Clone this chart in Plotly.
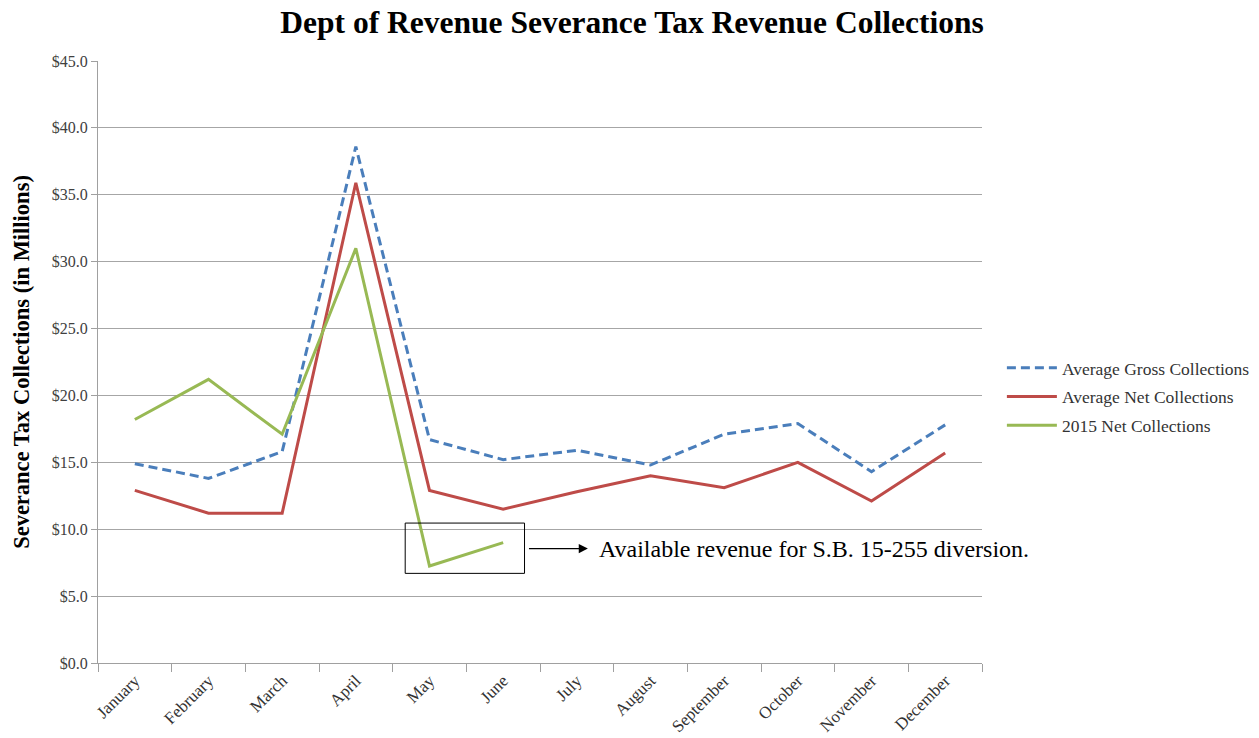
import plotly.graph_objects as go

months = ["January", "February", "March", "April", "May", "June", "July",
          "August", "September", "October", "November", "December"]
gross = [14.9, 13.8, 15.8, 38.6, 16.7, 15.2, 15.9, 14.8, 17.1, 17.9, 14.3, 17.8]
net = [12.9, 11.2, 11.2, 35.9, 12.9, 11.5, 12.8, 14.0, 13.1, 15.0, 12.1, 15.7]
net2015 = [18.2, 21.2, 17.1, 31.0, 7.25, 9.0]

FONT = "Liberation Serif, Times New Roman, serif"

fig = go.Figure()
fig.add_trace(go.Scatter(x=months, y=gross, mode="lines", name="Average Gross Collections",
                         legendgroup="g1",
                         line=dict(color="#4a7ebb", width=3, dash="9px,5px")))
fig.add_trace(go.Scatter(x=months, y=net, mode="lines", name="Average Net Collections",
                         legendgroup="g2",
                         line=dict(color="#be4b48", width=3)))
fig.add_trace(go.Scatter(x=months[:len(net2015)], y=net2015, mode="lines", name="2015 Net Collections",
                         legendgroup="g3",
                         line=dict(color="#98b954", width=3)))

fig.update_layout(
    width=1259, height=738,
    margin=dict(l=98, r=277, t=61, b=75, autoexpand=False),
    paper_bgcolor="white", plot_bgcolor="white",
    font=dict(family=FONT, color="#404040"),
    title=dict(text="<b>Dept of Revenue Severance Tax Revenue Collections</b>",
               x=0.502, xanchor="center", y=0.97, yanchor="middle",
               font=dict(family=FONT, size=31.5, color="black")),
    legend=dict(x=1.0225, xanchor="left", y=0.442, yanchor="middle",
                font=dict(family=FONT, size=17.5, color="#333333"),
                bgcolor="rgba(0,0,0,0)", tracegroupgap=3, itemwidth=50),
    showlegend=True,
)
fig.update_xaxes(
    type="category", range=[-0.5, 11.5], automargin=False,
    showline=True, linecolor="#a0a0a0", linewidth=1,
    ticks="outside", tickson="boundaries", ticklen=8, tickcolor="#a0a0a0",
    tickangle=-45, tickfont=dict(family=FONT, size=17, color="#333333"),
    showgrid=False,
)
fig.update_yaxes(
    range=[0, 45], dtick=5, tickprefix="$", tickformat=".1f", automargin=False,
    showline=True, linecolor="#a0a0a0", linewidth=1,
    ticks="outside", ticklen=6, tickcolor="#a0a0a0",
    showgrid=True, gridcolor="#a6a6a6", gridwidth=1,
    tickfont=dict(family=FONT, size=16, color="#404040"),
    title=dict(text="<b>Severance Tax Collections (in Millions)</b>",
               font=dict(family=FONT, size=22.5, color="black"), standoff=15),
    zeroline=False,
)

# annotation box around May-June 2015 values
fig.add_shape(type="rect", xref="x", yref="y", x0=3.67, x1=5.29, y0=6.7, y1=10.46,
              line=dict(color="black", width=1), fillcolor="rgba(0,0,0,0)")
fig.add_annotation(x=6.15, y=8.55, ax=5.33, ay=8.55, xref="x", yref="y", axref="x", ayref="y",
                   text="", showarrow=True, arrowhead=2, arrowsize=1.4, arrowwidth=1.3,
                   arrowcolor="black")
fig.add_annotation(x=6.27, y=8.5, xref="x", yref="y", xanchor="left", yanchor="middle",
                   text="Available revenue for S.B. 15-255 diversion.", showarrow=False,
                   font=dict(family=FONT, size=24, color="black"))

fig.write_html("out.html")
